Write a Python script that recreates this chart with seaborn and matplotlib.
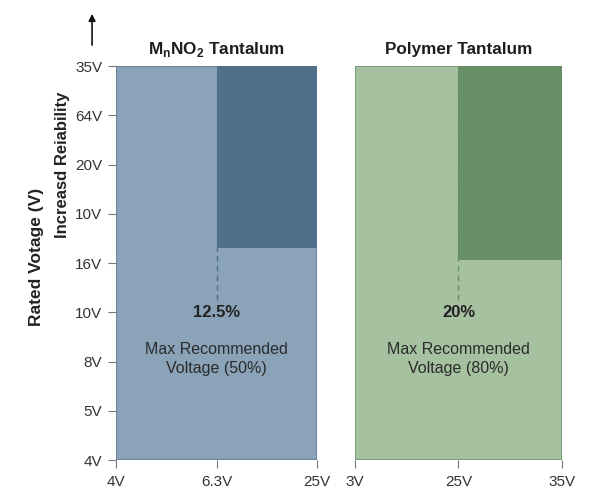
import matplotlib
matplotlib.use("Agg")
import matplotlib.pyplot as plt
import seaborn as sns

# panel data (category positions 0..2 on x, 0..8 on y)
panel_titles = [r"M$_\mathregular{n}$NO$_\mathregular{2}$ Tantalum", "Polymer Tantalum"]
x_labels = [["4V", "6.3V", "25V"], ["3V", "25V", "35V"]]
y_labels = ["4V", "5V", "8V", "10V", "16V", "10V", "20V", "64V", "35V"]
derating = ["12.5%", "20%"]
notes = ["Max Recommended\nVoltage (50%)", "Max Recommended\nVoltage (80%)"]
dark_bottom = [4.31, 4.07]   # where the darker (risk) block starts
y_top = 8
x_split = 1
x_end = 2

light_cols = ["#8aa3b8", "#a5c1a0"]
dark_cols = ["#4f6f8a", "#678f67"]
edge_cols = ["#5f7f98", "#71976f"]

sns.set_style("white")
plt.rcParams["font.family"] = ["Liberation Sans", "DejaVu Sans"]

fig = plt.figure(figsize=(5.94, 5.04), dpi=100)
axes = [fig.add_axes([0.1953, 0.0873, 0.3384, 0.7817]),
        fig.add_axes([0.5976, 0.0873, 0.3485, 0.7817])]

for i, ax in enumerate(axes):
    # full light panel
    ax.bar(0, y_top, width=x_end, align="edge", color=light_cols[i],
           edgecolor=edge_cols[i], linewidth=1.2, zorder=1)
    # darker block on the right
    ax.bar(x_split, y_top - dark_bottom[i], width=x_end - x_split,
           bottom=dark_bottom[i], align="edge", color=dark_cols[i],
           linewidth=0, zorder=2)
    # dashed split line
    ax.plot([x_split, x_split], [3.25, y_top], ls=(0, (4, 3)),
            color=dark_cols[i], lw=1.0, zorder=3)

    ax.text(x_split, 3.0, derating[i], ha="center", va="center",
            fontsize=12, fontweight="bold", color="#222222")
    ax.text(x_split, 2.05, notes[i], ha="center", va="center",
            fontsize=11.5, color="#2b2b2b", linespacing=1.3)

    ax.set_xlim(0, x_end)
    ax.set_ylim(0, y_top)
    ax.set_xticks(range(3))
    ax.set_xticklabels(x_labels[i], fontsize=11, color="#333333")
    ax.tick_params(axis="x", length=6, width=0.8, color="#777777", pad=5)
    ax.set_title(panel_titles[i], fontsize=12.3, fontweight="bold",
                 color="#1e1e1e", pad=9)
    for s in ax.spines.values():
        s.set_visible(False)

axes[0].set_yticks(range(9))
axes[0].set_yticklabels(y_labels, fontsize=11, color="#333333")
axes[0].tick_params(axis="y", length=6, width=0.8, color="#777777", pad=4, left=True)
axes[1].set_yticks([])
axes[0].tick_params(axis="x", bottom=True)
axes[1].tick_params(axis="x", bottom=True)

fig.text(0.062, 0.49, "Rated Votage (V)", rotation=90, ha="center", va="center",
         fontsize=12.5, fontweight="bold", color="#222222")
fig.text(0.106, 0.672, "Increasd Reiability", rotation=90, ha="center", va="center",
         fontsize=12, fontweight="bold", color="#222222")
fig.add_artist(matplotlib.patches.FancyArrowPatch(
    (0.155, 0.905), (0.155, 0.978), transform=fig.transFigure,
    arrowstyle="-|>", mutation_scale=10, color="#111111", lw=1.2))

fig.savefig("out.png", dpi=100)
